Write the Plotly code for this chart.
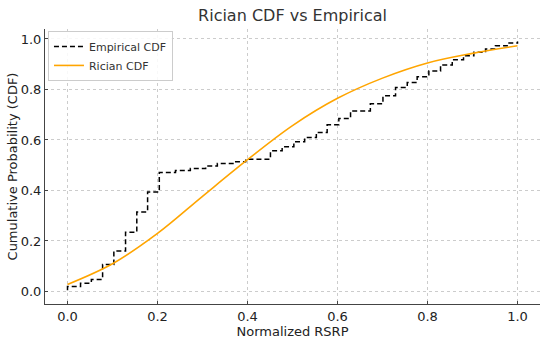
import plotly.graph_objects as go

# Empirical CDF step data (step positions and levels)
emp_x = [0.0, 0.0, 0.029, 0.053, 0.078, 0.103, 0.129, 0.154, 0.178, 0.204,
         0.24, 0.273, 0.307, 0.333, 0.37, 0.396, 0.451, 0.477, 0.503, 0.527,
         0.553, 0.577, 0.603, 0.629, 0.673, 0.701, 0.729, 0.755, 0.777, 0.803,
         0.829, 0.855, 0.88, 0.903, 0.929, 0.951, 0.977, 1.0]
emp_y = [0.005, 0.02, 0.033, 0.048, 0.107, 0.16, 0.235, 0.315, 0.394, 0.471,
         0.479, 0.487, 0.497, 0.507, 0.514, 0.524, 0.557, 0.573, 0.593, 0.61,
         0.63, 0.66, 0.685, 0.715, 0.743, 0.775, 0.808, 0.828, 0.85, 0.873,
         0.897, 0.918, 0.934, 0.947, 0.96, 0.973, 0.984, 0.99]

# Rician CDF curve samples
ric_x = [0.0, 0.1, 0.2, 0.3, 0.4, 0.5, 0.6, 0.7, 0.8, 0.9, 1.0]
ric_y = [0.028, 0.11, 0.23, 0.377, 0.522, 0.657, 0.765, 0.845, 0.905, 0.943, 0.973]

x_ticks = [0.0, 0.2, 0.4, 0.6, 0.8, 1.0]
y_ticks = [0.0, 0.2, 0.4, 0.6, 0.8, 1.0]

fig = go.Figure()
fig.add_trace(go.Scatter(
    x=emp_x, y=emp_y, mode="lines", name="Empirical CDF",
    line=dict(color="black", width=1.5, dash="5px,3px", shape="hv"),
))
fig.add_trace(go.Scatter(
    x=ric_x, y=ric_y, mode="lines", name="Rician CDF",
    line=dict(color="#FFA500", width=1.6, shape="spline"),
))

axis_common = dict(
    showgrid=True, gridcolor="#cccccc", griddash="dot", gridwidth=1,
    zeroline=False, showline=True, linecolor="#444444", linewidth=1,
    ticks="inside", ticklen=3, tickcolor="#444444",
    tickfont=dict(size=13, color="#222222"),
    mirror=False, automargin=False,
)

fig.update_layout(
    width=550, height=340,
    margin=dict(l=45, r=10, t=29, b=36),
    paper_bgcolor="white", plot_bgcolor="white",
    font=dict(family="DejaVu Sans", color="#222222"),
    title=dict(text="Rician CDF vs Empirical", x=0.5, xref="paper", xanchor="center",
               y=0.955, yanchor="middle", font=dict(size=16, color="#333333")),
    xaxis=dict(range=[-0.05, 1.05], tickvals=x_ticks,
               ticktext=[f"{v:.1f}" for v in x_ticks],
               title=dict(text="Normalized RSRP", font=dict(size=13), standoff=2),
               **axis_common),
    yaxis=dict(range=[-0.0495, 1.0395], tickvals=y_ticks,
               ticktext=[f"{v:.1f}" for v in y_ticks],
               title=dict(text="Cumulative Probability (CDF)", font=dict(size=13), standoff=0),
               **axis_common),
    legend=dict(x=0.006, y=0.993, xanchor="left", yanchor="top",
                bgcolor="rgba(255,255,255,0.85)", bordercolor="#cccccc", borderwidth=1,
                font=dict(size=11, color="#333333"), itemwidth=30,
                tracegroupgap=0),
    showlegend=True,
)

fig.write_html("out.html", config={"displayModeBar": False},
               post_script="document.body.style.margin='0';document.body.style.padding='0';")
